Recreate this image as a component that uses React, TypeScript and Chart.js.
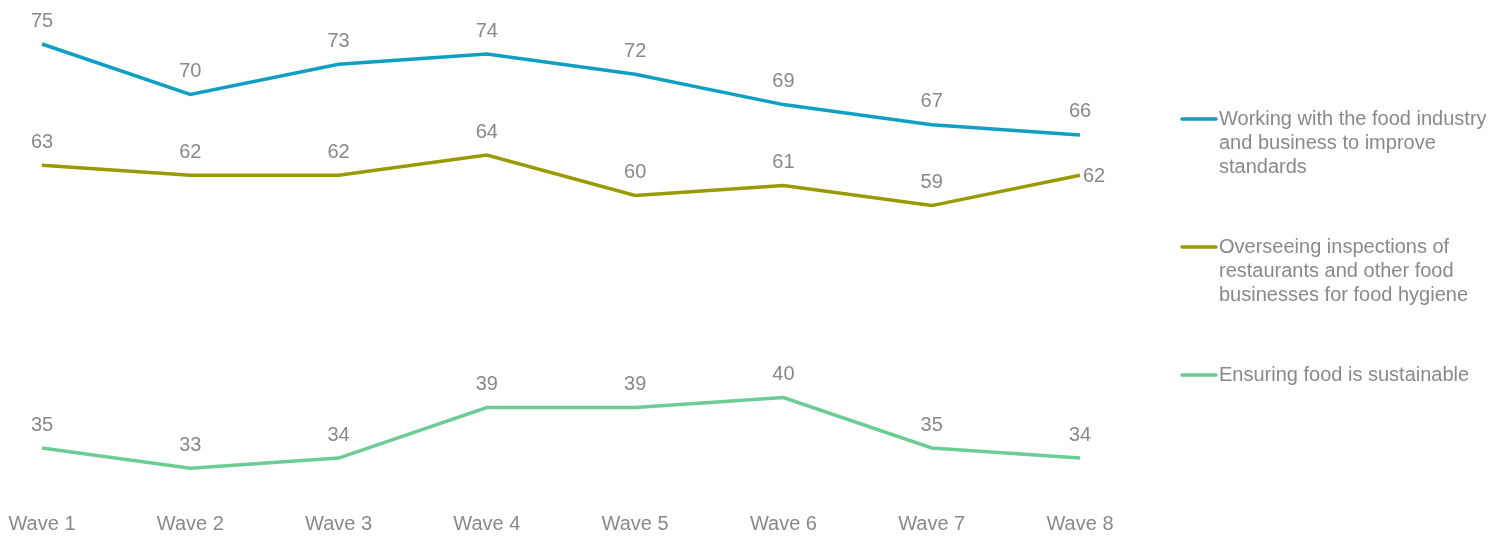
import React, { useEffect, useRef } from "react";
import { Chart, registerables } from "chart.js";

Chart.register(...registerables);

const waves = ["Wave 1", "Wave 2", "Wave 3", "Wave 4", "Wave 5", "Wave 6", "Wave 7", "Wave 8"];
const workingWithIndustry = [75, 70, 73, 74, 72, 69, 67, 66];
const overseeingInspections = [63, 62, 62, 64, 60, 61, 59, 62];
const ensuringSustainable = [35, 33, 34, 39, 39, 40, 35, 34];

const seriesNames = [
  "Working with the food industry and business to improve standards",
  "Overseeing inspections of restaurants and other food businesses for food hygiene",
  "Ensuring food is sustainable",
];
const legendLines = [
  ["Working with the food industry", "and business to improve", "standards"],
  ["Overseeing inspections of", "restaurants and other food", "businesses for food hygiene"],
  ["Ensuring food is sustainable"],
];
const colors = ["#0F9FC3", "#999900", "#6DCB95"];
const TEXT = "#898989";
const FAMILY = "'Liberation Sans', Arial, sans-serif";
const FONT = "20px " + FAMILY;

const dataLabelPlugin = {
  id: "dataLabels",
  afterDatasetsDraw(chart: any) {
    const ctx = chart.ctx;
    ctx.save();
    ctx.font = FONT;
    ctx.fillStyle = TEXT;
    chart.data.datasets.forEach((ds: any, di: number) => {
      const meta = chart.getDatasetMeta(di);
      meta.data.forEach((pt: any, i: number) => {
        const v = ds.data[i];
        const last = i === ds.data.length - 1;
        ctx.textBaseline = "middle";
        if (di === 1 && last) {
          ctx.textAlign = "left";
          ctx.fillText(String(v), pt.x + 3, pt.y + 1);
        } else {
          ctx.textAlign = "center";
          ctx.fillText(String(v), pt.x, pt.y - 23);
        }
      });
    });
    ctx.restore();
  },
};

const customLegendPlugin = {
  id: "customLegend",
  afterDraw(chart: any) {
    const ctx = chart.ctx;
    ctx.save();
    ctx.font = FONT;
    const x0 = 1182;
    const x1 = 1216;
    const tx = 1219;
    const startY = 119;
    const gap = 128;
    legendLines.forEach((lines, i) => {
      const y = startY + i * gap;
      ctx.strokeStyle = colors[i];
      ctx.lineWidth = 3.5;
      ctx.lineCap = "round";
      ctx.beginPath();
      ctx.moveTo(x0, y);
      ctx.lineTo(x1, y);
      ctx.stroke();
      ctx.fillStyle = TEXT;
      ctx.textAlign = "left";
      ctx.textBaseline = "middle";
      lines.forEach((line, li) => {
        ctx.fillText(line, tx, y + li * 24);
      });
    });
    ctx.restore();
  },
};

export default function App() {
  const ref = useRef<HTMLCanvasElement | null>(null);
  useEffect(() => {
    if (!ref.current) return;
    const seriesData = [workingWithIndustry, overseeingInspections, ensuringSustainable];
    const chart = new Chart(ref.current, {
      type: "line",
      data: {
        labels: waves,
        datasets: seriesData.map((d, i) => ({
          label: seriesNames[i],
          data: d,
          borderColor: colors[i],
          backgroundColor: colors[i],
          borderWidth: 3.5,
          pointRadius: 0,
          tension: 0,
          fill: false,
        })),
      },
      options: {
        animation: false,
        responsive: false,
        maintainAspectRatio: false,
        layout: { padding: { left: 42, right: 428, top: 13.7, bottom: -13.5 } },
        plugins: { legend: { display: false }, tooltip: { enabled: false } },
        scales: {
          y: { display: false, min: 30, max: 78 },
          x: {
            offset: false,
            grid: { display: false, drawTicks: false },
            border: { display: false },
            afterFit: (s: any) => {
              s.paddingLeft = 0;
              s.paddingRight = 0;
            },
            ticks: {
              color: TEXT,
              padding: 13.5,
              maxRotation: 0,
              autoSkip: false,
              font: { family: FAMILY, size: 20 },
            },
          },
        },
      },
      plugins: [dataLabelPlugin, customLegendPlugin],
    });
    return () => chart.destroy();
  }, []);
  return (
    <div style={{ position: "fixed", left: 0, top: 0, width: 1508, height: 536, background: "#fff" }}>
      <canvas ref={ref} width={1508} height={536} style={{ width: 1508, height: 536 }} />
    </div>
  );
}
